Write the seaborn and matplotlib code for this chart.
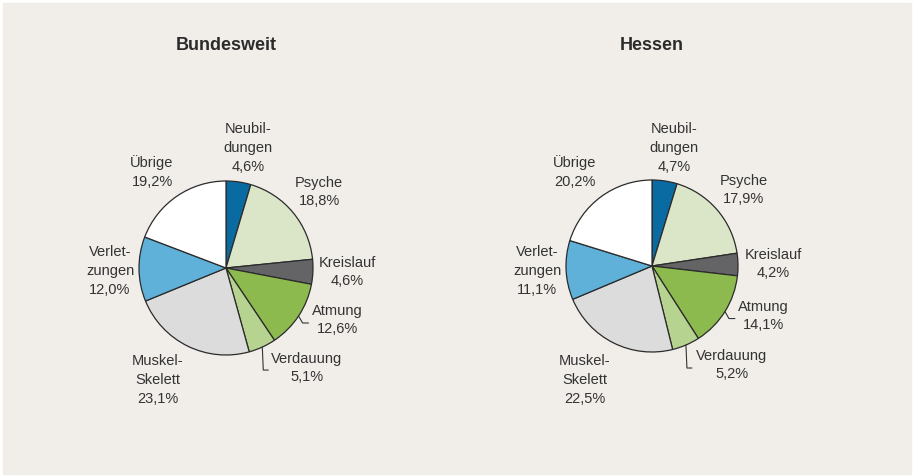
import numpy as np
import matplotlib
matplotlib.use("Agg")
import matplotlib.pyplot as plt
import seaborn as sns

sns.set_theme(style="white")
plt.rcParams["font.family"] = ["Liberation Sans", "DejaVu Sans"]

# data
categories = ["Neubil-\ndungen", "Psyche", "Kreislauf", "Atmung", "Verdauung",
              "Muskel-\nSkelett", "Verlet-\nzungen", "Übrige"]
bund_values = [4.6, 18.8, 4.6, 12.6, 5.1, 23.1, 12.0, 19.2]
hessen_values = [4.7, 17.9, 4.2, 14.1, 5.2, 22.5, 11.1, 20.2]
titles = ["Bundesweit", "Hessen"]

colors = ["#0a6ba3", "#dbe6c9", "#646466", "#8dba4e", "#b6d38f",
          "#dcdcdc", "#5fb1d9", "#ffffff"]
TEXT = "#333333"

# layout in pixel coordinates (y down)
centers = [(226, 269), (652, 267)]
radii = [87, 86]
label_pos = [
    [(248, 148), (319, 192), (347, 272), (337, 320), (307, 368),
     (158, 380), (110, 271), (152, 172)],
    [(674, 148), (744, 190), (773, 264), (763, 316), (732, 365),
     (585, 380), (537, 271), (575, 172)],
]
# leader lines: category index -> (elbow offset, end offset)
leaders = {3: ((4, 7), (10, 7)), 4: ((1, 23), (6, 23))}


def fmt(v):
    return f"{v:.1f}%".replace(".", ",")


def draw_pie(ax, values, center, radius, labels_xy, title):
    ax.pie(values, colors=colors, startangle=-90, counterclock=True,
           center=center, radius=radius,
           wedgeprops=dict(edgecolor="#2b2b2b", linewidth=0.9))
    ax.text(center[0], 46, title, ha="center", va="center",
            fontsize=13, fontweight="bold", color="#2b2b2b")
    total = sum(values)
    cum = np.cumsum([0] + list(values))
    for i, (cat, v) in enumerate(zip(categories, values)):
        x, y = labels_xy[i]
        ax.text(x, y, f"{cat}\n{fmt(v)}", ha="center", va="center",
                fontsize=10.5, color=TEXT, linespacing=1.45)
        if i in leaders:
            ang = 2 * np.pi * (cum[i] + v / 2) / total
            ex = center[0] + radius * np.sin(ang)
            ey = center[1] - radius * np.cos(ang)
            (dx1, dy1), (dx2, dy2) = leaders[i]
            ax.plot([ex, ex + dx1, ex + dx2], [ey, ey + dy1, ey + dy2],
                    color=TEXT, lw=0.8)


fig = plt.figure(figsize=(9.13, 4.77), dpi=100)
fig.patch.set_facecolor("white")
ax = fig.add_axes([0, 0, 1, 1])
ax.add_patch(plt.Rectangle((3, 4), 908, 471, color="#f1eeea", zorder=0))

for values, c, r, lp, t in zip([bund_values, hessen_values], centers, radii,
                               label_pos, titles):
    draw_pie(ax, values, c, r, lp, t)

ax.set_xlim(0, 913)
ax.set_ylim(477, 0)
ax.set_aspect("equal")
ax.axis("off")

fig.savefig("out.png", dpi=100, facecolor=fig.get_facecolor())
